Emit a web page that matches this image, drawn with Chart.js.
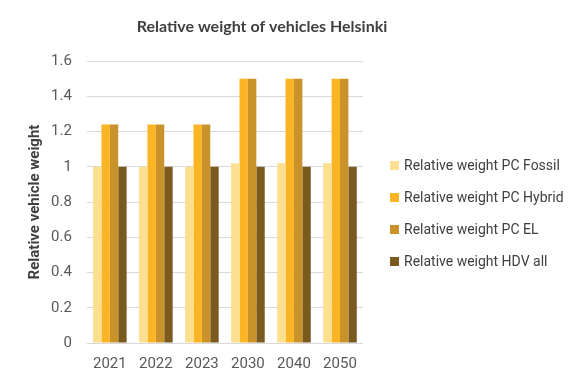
<!DOCTYPE html>
<html>
<head>
<meta charset="utf-8">
<script src="https://cdn.jsdelivr.net/npm/chart.js@4/dist/chart.umd.min.js"></script>
<style>
html,body{margin:0;padding:0;background:#fff;}
#wrap{position:relative;width:585px;height:384px;}
#legend{position:absolute;left:390px;top:155px;font-family:Roboto,sans-serif;font-size:14px;color:#404040;}
#legend .item{height:32px;display:flex;align-items:flex-start;white-space:nowrap;line-height:20px;}
#legend .box{width:9px;height:9px;margin-top:6px;margin-right:5px;flex:none;}
</style>
</head>
<body>
<div id="wrap"><canvas id="c" width="585" height="384"></canvas><div id="legend"></div></div>
<script>
const chartTitle = "Relative weight of vehicles Helsinki";
const yAxisTitle = "Relative vehicle weight";
const categories = ["2021", "2022", "2023", "2030", "2040", "2050"];
const seriesNames = ["Relative weight PC Fossil", "Relative weight PC Hybrid", "Relative weight PC EL", "Relative weight HDV all"];
const pcFossil = [1.0, 1.0, 1.0, 1.02, 1.02, 1.02];
const pcHybrid = [1.24, 1.24, 1.24, 1.5, 1.5, 1.5];
const pcEL = [1.24, 1.24, 1.24, 1.5, 1.5, 1.5];
const hdvAll = [1.0, 1.0, 1.0, 1.0, 1.0, 1.0];
const seriesColors = ["#FDDF90", "#FBB423", "#C9922B", "#7B5A1F"];

const titlePlugin = {
  id: 'customTitle',
  afterDraw(chart) {
    const ctx = chart.ctx;
    ctx.save();
    ctx.font = "bold 16px Lato, 'Open Sans', sans-serif";
    ctx.fillStyle = "#404040";
    ctx.textAlign = "center";
    ctx.textBaseline = "middle";
    ctx.fillText(chartTitle, 262, 27);
    ctx.restore();
  }
};

const seriesData = [pcFossil, pcHybrid, pcEL, hdvAll];
const chart = new Chart(document.getElementById('c'), {
  type: 'bar',
  data: {
    labels: categories,
    datasets: seriesNames.map((n, i) => ({
      label: n,
      data: seriesData[i],
      backgroundColor: seriesColors[i],
      borderWidth: 0,
      categoryPercentage: 0.73,
      barPercentage: 1.0
    }))
  },
  options: {
    responsive: false,
    animation: false,
    layout: { padding: { top: 61, left: 26, right: 222, bottom: 7 } },
    plugins: {
      title: { display: false },
      tooltip: { enabled: false },
      legend: { display: false }
    },
    scales: {
      x: {
        grid: { display: false },
        border: { display: false },
        ticks: { color: '#595959', font: { family: "Roboto, sans-serif", size: 15 }, padding: 4 }
      },
      y: {
        min: 0, max: 1.6,
        ticks: { stepSize: 0.2, color: '#595959', font: { family: "Roboto, sans-serif", size: 15 }, padding: 15,
          callback: v => (Math.round(v * 10) / 10).toString() },
        grid: { color: '#D9D9D9', drawTicks: false, lineWidth: 1 },
        border: { display: false },
        title: { display: true, text: yAxisTitle, color: '#404040', font: { family: "Roboto, sans-serif", size: 15, weight: 'bold' }, padding: { top: 0, bottom: -8 } }
      }
    }
  },
  plugins: [titlePlugin]
});

const legendEl = document.getElementById('legend');
chart.data.datasets.forEach(ds => {
  const item = document.createElement('div');
  item.className = 'item';
  const box = document.createElement('span');
  box.className = 'box';
  box.style.background = ds.backgroundColor;
  const txt = document.createElement('span');
  txt.textContent = ds.label;
  item.appendChild(box);
  item.appendChild(txt);
  legendEl.appendChild(item);
});
</script>
</body>
</html>
